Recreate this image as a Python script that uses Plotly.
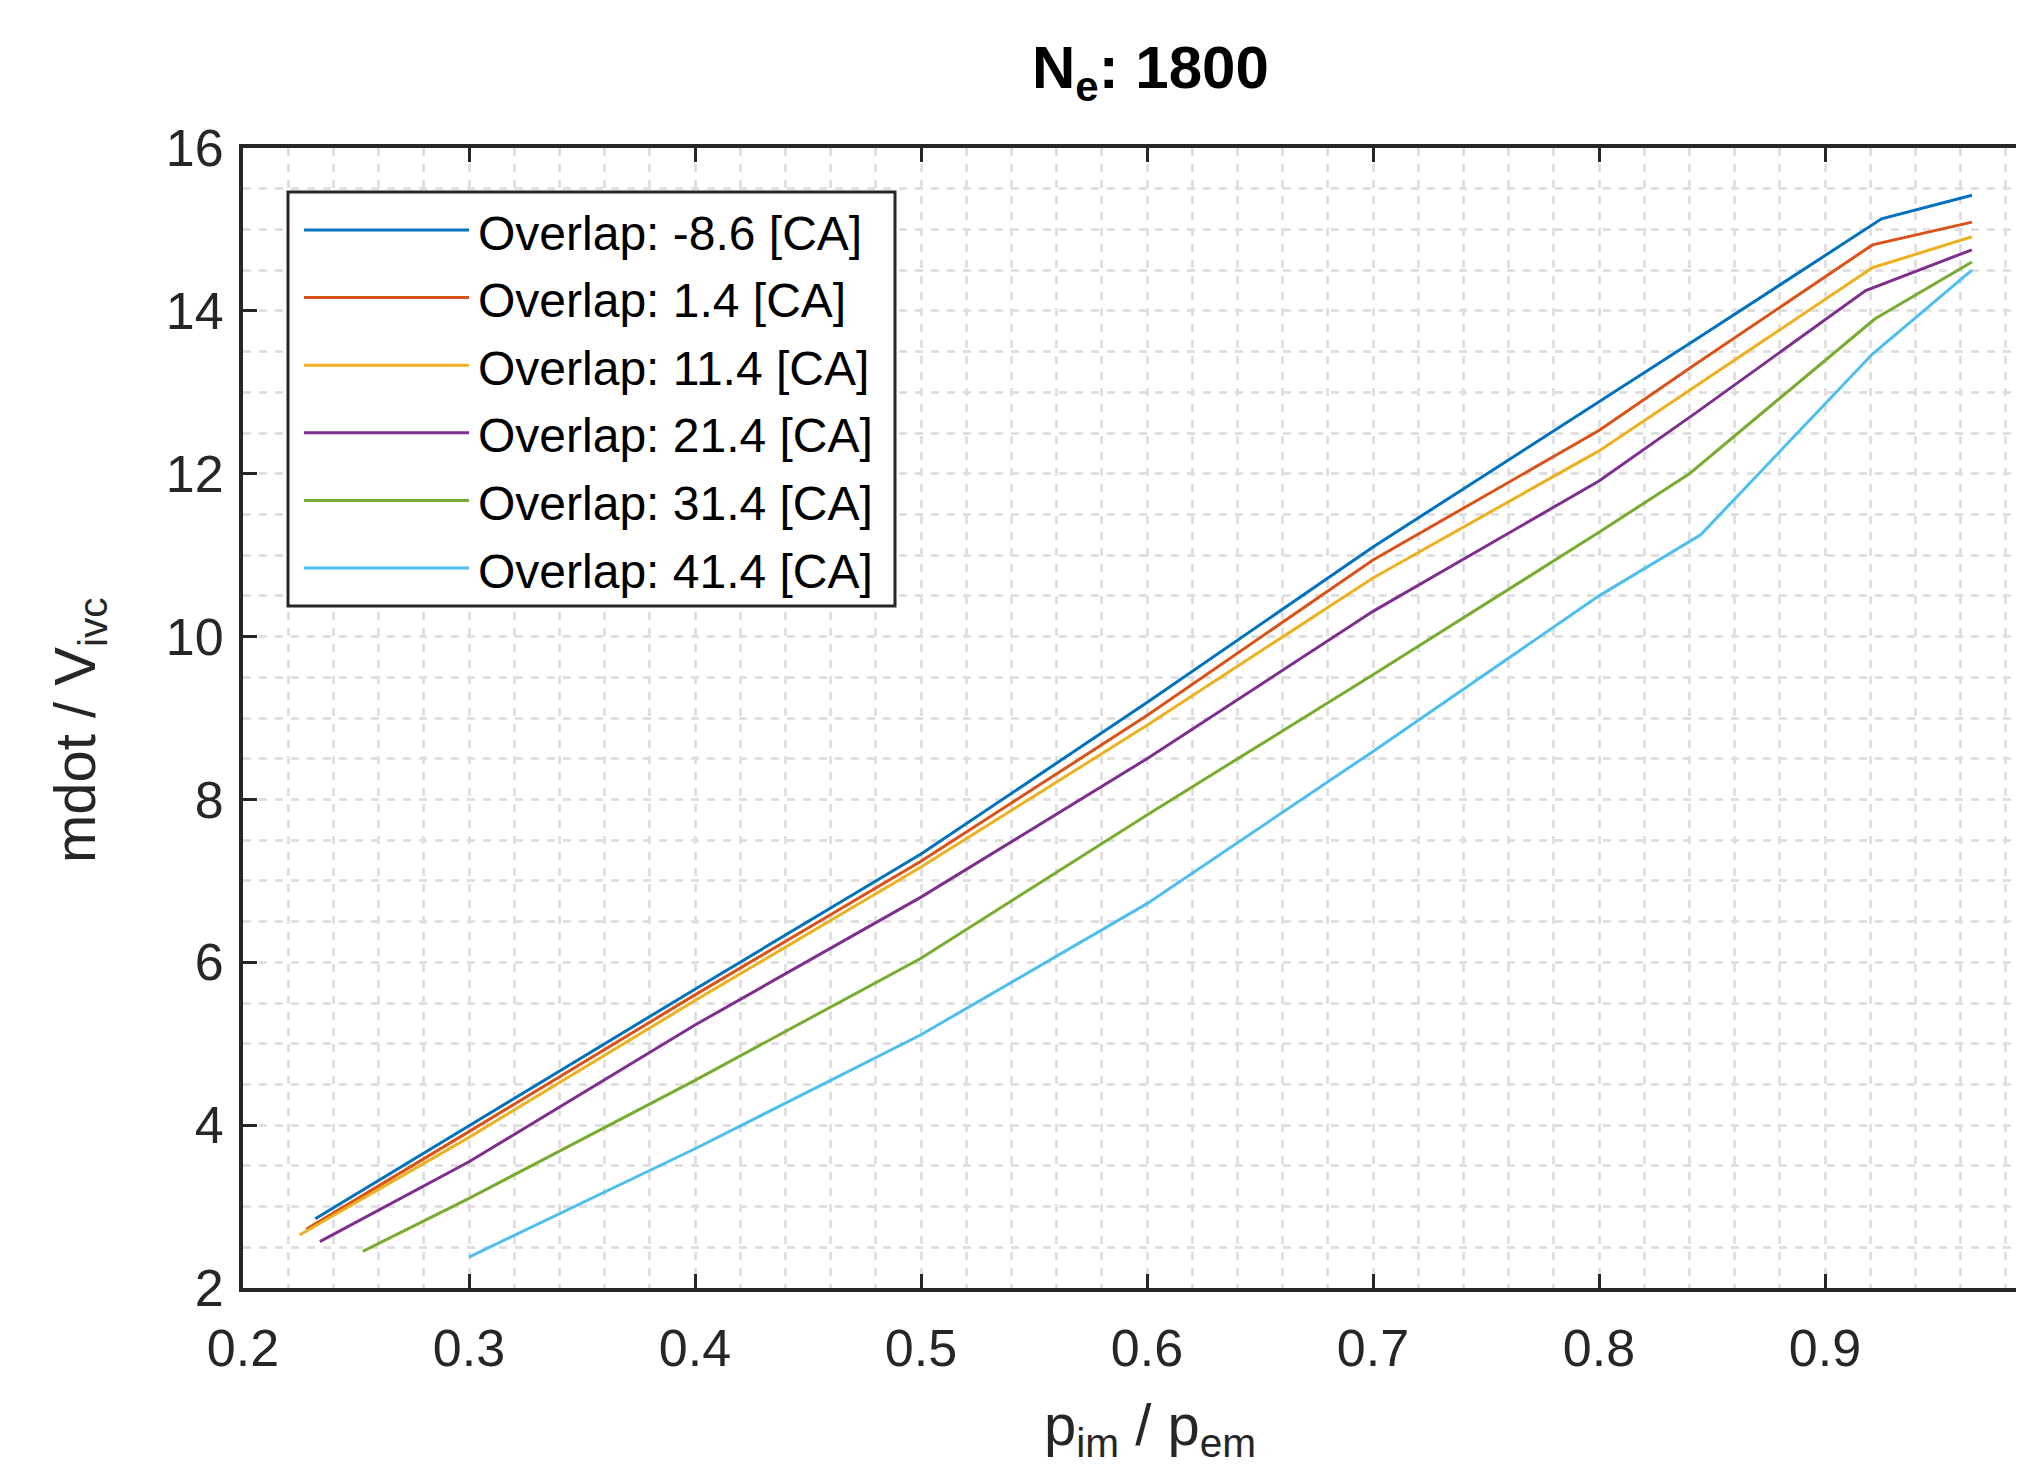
import plotly.graph_objects as go

# ---------------- data ----------------
labels = ["Overlap: -8.6 [CA]", "Overlap: 1.4 [CA]", "Overlap: 11.4 [CA]",
          "Overlap: 21.4 [CA]", "Overlap: 31.4 [CA]", "Overlap: 41.4 [CA]"]
colors = ["#0072BD", "#D95319", "#EDB120", "#7E2F8E", "#77AC30", "#4DBEEE"]

x_m86 = [0.232, 0.30, 0.40, 0.50, 0.60, 0.70, 0.80, 0.843, 0.925, 0.965]
y_m86 = [2.85, 3.99, 5.67, 7.33, 9.19, 11.10, 12.88, 13.65, 15.13, 15.42]

x_p14 = [0.228, 0.30, 0.40, 0.50, 0.60, 0.70, 0.80, 0.843, 0.921, 0.965]
y_p14 = [2.72, 3.92, 5.60, 7.24, 9.03, 10.94, 12.53, 13.35, 14.81, 15.09]

x_p114 = [0.225, 0.30, 0.40, 0.50, 0.60, 0.70, 0.80, 0.843, 0.921, 0.965]
y_p114 = [2.65, 3.85, 5.53, 7.17, 8.91, 10.72, 12.28, 13.08, 14.53, 14.91]

x_p214 = [0.234, 0.30, 0.40, 0.50, 0.60, 0.70, 0.80, 0.843, 0.918, 0.965]
y_p214 = [2.57, 3.55, 5.23, 6.80, 8.50, 10.31, 11.91, 12.75, 14.25, 14.75]

x_p314 = [0.253, 0.30, 0.40, 0.50, 0.60, 0.70, 0.80, 0.840, 0.922, 0.965]
y_p314 = [2.45, 3.10, 4.55, 6.05, 7.81, 9.53, 11.28, 12.00, 13.90, 14.60]

x_p414 = [0.300, 0.40, 0.50, 0.60, 0.70, 0.80, 0.845, 0.921, 0.965]
y_p414 = [2.38, 3.71, 5.11, 6.72, 8.59, 10.50, 11.25, 13.47, 14.50]

xs = [x_m86, x_p14, x_p114, x_p214, x_p314, x_p414]
ys = [y_m86, y_p14, y_p114, y_p214, y_p314, y_p414]

x_ticks = [0.2, 0.3, 0.4, 0.5, 0.6, 0.7, 0.8, 0.9]
y_ticks = [2, 4, 6, 8, 10, 12, 14, 16]

title_text = "<b>N<sub>e</sub>: 1800</b>"
xlabel_text = "p<sub>im</sub> / p<sub>em</sub>"
ylabel_text = "mdot / V<sub>ivc</sub>"

# ---------------- layout geometry ----------------
# The page body has an 8px margin, so the figure is sized to fit the window
# exactly and every page position is shifted by that offset.
OFF = 8
FW, FH = 2024 - 2 * OFF, 1476 - 2 * OFF
PL, PT, PB, PR = 243, 148, 1288, 2016      # plot area in page pixels
L, T = PL - OFF, PT - OFF
B = FH - (PB - OFF)
R = FW - (PR - OFF)
W = FW - L - R
H = FH - T - B
PX_PER_X = 2260.0


def px(xp):
    """page x pixel -> paper x"""
    return (xp - PL) / W


def py(yp):
    """page y pixel -> paper y"""
    return 1 - (yp - PT) / H


FONT = "Liberation Sans, Arial, Helvetica, sans-serif"
AX = "#262626"
GRID = "#e0e0e0"

fig = go.Figure()
for xv, yv, c, n in zip(xs, ys, colors, labels):
    fig.add_trace(go.Scatter(x=xv, y=yv, mode="lines", name=n,
                             line=dict(color=c, width=3), showlegend=False))

axis_common = dict(
    showline=True, linecolor=AX, linewidth=4,
    ticks="inside", ticklen=14, tickwidth=3, tickcolor=AX,
    showgrid=True, gridcolor=GRID, gridwidth=3, griddash="8px,8px",
    zeroline=False,
    tickfont=dict(family=FONT, size=52, color=AX),
)

fig.update_xaxes(**axis_common, range=[0.2, 0.2 + W / PX_PER_X],
                 tickmode="array", tickvals=x_ticks,
                 ticktext=[f"{v:.1f}" for v in x_ticks],
                 mirror="ticks", ticklabelstandoff=12,
                 minor=dict(dtick=0.02, showgrid=True, gridcolor=GRID,
                            gridwidth=3, griddash="8px,8px", ticks=""))
fig.update_yaxes(**axis_common, range=[2, 16],
                 tickmode="array", tickvals=y_ticks,
                 ticktext=[str(v) for v in y_ticks],
                 mirror=False, ticklabelstandoff=5,
                 minor=dict(dtick=0.5, showgrid=True, gridcolor=GRID,
                            gridwidth=3, griddash="8px,8px", ticks=""))

ann = []
ann.append(dict(text=title_text, x=px(1150), y=py(72), xref="paper", yref="paper",
                xanchor="center", yanchor="middle", showarrow=False,
                font=dict(family=FONT, size=60, color="#000000")))
ann.append(dict(text=xlabel_text, x=px(1150), y=py(1390), xref="paper", yref="paper",
                xanchor="center", yanchor="top", showarrow=False,
                font=dict(family=FONT, size=58, color=AX)))
ann.append(dict(text=ylabel_text, x=px(79), y=py(730), xref="paper", yref="paper",
                xanchor="center", yanchor="middle", showarrow=False, textangle=-90,
                font=dict(family=FONT, size=58, color=AX)))

# legend drawn as a box with line samples and labels
shapes = []
leg_l, leg_r, leg_t, leg_b = 288, 895, 192, 606
shapes.append(dict(type="rect", xref="paper", yref="paper",
                   x0=px(leg_l), x1=px(leg_r), y0=py(leg_b), y1=py(leg_t),
                   fillcolor="white", line=dict(color=AX, width=3), layer="above"))
row0, drow = 230, 67.6
for i, (c, n) in enumerate(zip(colors, labels)):
    yr = row0 + i * drow
    shapes.append(dict(type="line", xref="paper", yref="paper",
                       x0=px(304), x1=px(469), y0=py(yr), y1=py(yr),
                       line=dict(color=c, width=3), layer="above"))
    ann.append(dict(text=n, x=px(476), y=py(yr + 3), xref="paper", yref="paper",
                    xanchor="left", yanchor="middle", showarrow=False,
                    font=dict(family=FONT, size=48, color="#000000")))

fig.update_layout(
    width=FW, height=FH,
    margin=dict(l=L, r=R, t=T, b=B, pad=0),
    paper_bgcolor="white", plot_bgcolor="white",
    annotations=ann, shapes=shapes, showlegend=False,
)

fig.write_html("out.html")
